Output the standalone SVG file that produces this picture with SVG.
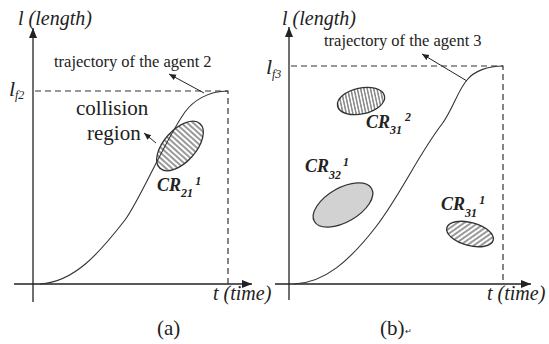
<svg xmlns="http://www.w3.org/2000/svg" width="549" height="344" viewBox="0 0 549 344">
<style>
.ax{stroke:#222;stroke-width:1.3;fill:none}
.dash{stroke:#333;stroke-width:1.2;fill:none;stroke-dasharray:6,4}
.cur{stroke:#333;stroke-width:1.1;fill:none}
.ptr{stroke:#222;stroke-width:1;fill:none}
.lab{font-family:"Liberation Serif",serif;font-style:italic;fill:#222}
.txt{font-family:"Liberation Serif",serif;fill:#222}
.cr{font-family:"Liberation Serif",serif;font-style:italic;font-weight:bold;fill:#222;font-size:18px}
.sb{font-size:12px}
.ell{stroke:#333;stroke-width:1.3}
</style>
<defs>
<marker id="axh" markerUnits="userSpaceOnUse" markerWidth="12" markerHeight="10" refX="10" refY="4" orient="auto">
<path d="M0,0 L10,4 L0,8 Z" fill="#222"/>
</marker>
<marker id="ph" markerUnits="userSpaceOnUse" markerWidth="9" markerHeight="7" refX="7" refY="3" orient="auto">
<path d="M0,0 L7,3 L0,6 Z" fill="#222"/>
</marker>
<pattern id="hv" patternUnits="userSpaceOnUse" width="4" height="4">
<line x1="2" y1="0" x2="2" y2="4" stroke="#333" stroke-width="1"/>
</pattern>
<pattern id="hv3" patternUnits="userSpaceOnUse" width="3.2" height="4">
<line x1="1.6" y1="0" x2="1.6" y2="4" stroke="#333" stroke-width="0.9"/>
</pattern>
<pattern id="hd" patternUnits="userSpaceOnUse" width="4" height="4" patternTransform="rotate(40)">
<line x1="2" y1="0" x2="2" y2="4" stroke="#333" stroke-width="1"/>
</pattern>
</defs>
<rect width="549" height="344" fill="#fff"/>

<g id="panel-a-axes">
<line class="ax" x1="33" y1="302" x2="33" y2="28" marker-end="url(#axh)"/>
<line class="ax" x1="14" y1="284" x2="252" y2="284" marker-end="url(#axh)"/>
<text class="lab" x="18" y="25" font-size="20">l (length)</text>
<text class="lab" x="213" y="300" font-size="20">t (time)</text>
<text class="lab" x="9" y="96" font-size="22">l<tspan x="15" y="99" font-size="12">f2</tspan></text>
<text class="txt" x="157" y="335" font-size="21">(a)</text>
</g>
<g id="panel-b-axes">
<line class="ax" x1="289" y1="300" x2="289" y2="27" marker-end="url(#axh)"/>
<line class="ax" x1="275" y1="284" x2="531" y2="284" marker-end="url(#axh)"/>
<text class="lab" x="282" y="25" font-size="20">l (length)</text>
<text class="lab" x="487" y="300" font-size="20">t (time)</text>
<text class="lab" x="266" y="74" font-size="22">l<tspan x="272" y="78" font-size="12">f3</tspan></text>
<text class="txt" x="380" y="335" font-size="21">(b)</text>
<text class="txt" x="405" y="334" font-size="8" fill="#999">↵</text>
</g>

<g id="connectors">
<path class="dash" d="M35,91 H228 V284"/>
<path class="dash" d="M291,66 H503 V284"/>
<path class="cur" d="M40,284 C75,282 100,252 125,220 C140,200 165,140 185,112 C193,101 208,91 228,91"/>
<path class="cur" d="M294,284 C325,283 350,260 375,228 C400,196 418,155 442,124 C452,111 458,90 467,80 C474,71 488,66 503,66"/>
<line class="ptr" x1="204" y1="93" x2="169" y2="74" marker-end="url(#ph)"/>
<line class="ptr" x1="467" y1="81" x2="422" y2="54" marker-end="url(#ph)"/>
<line class="ptr" x1="156" y1="143" x2="144" y2="133" marker-end="url(#ph)"/>
</g>

<g id="label-traj2">
<text class="txt" x="54" y="67" font-size="16.5">trajectory of the agent 2</text>
</g>
<g id="label-traj3">
<text class="txt" x="324" y="46" font-size="16.5">trajectory of the agent 3</text>
</g>

<g id="collision-region-a">
<ellipse class="ell" cx="180" cy="146" rx="30" ry="16" transform="rotate(-48 180 146)" fill="url(#hv)"/>
<text class="txt" x="76" y="115" font-size="21">collision</text>
<text class="txt" x="87" y="140" font-size="21">region</text>
<text class="cr" x="157" y="191">CR<tspan class="sb" dx="0" dy="6">21</tspan><tspan class="sb" dx="3" dy="-12">1</tspan></text>
</g>

<g id="cr31-2">
<ellipse class="ell" cx="361" cy="101" rx="24" ry="13" transform="rotate(-12 361 101)" fill="url(#hv3)"/>
<text class="cr" x="366" y="128">CR<tspan class="sb" dx="0" dy="6">31</tspan><tspan class="sb" dx="3" dy="-13">2</tspan></text>
</g>

<g id="cr32-1">
<ellipse class="ell" cx="343" cy="205" rx="33" ry="17" transform="rotate(-30 343 205)" fill="#d2d2d2"/>
<text class="cr" x="305" y="172">CR<tspan class="sb" dx="0" dy="7">32</tspan><tspan class="sb" dx="2" dy="-13">1</tspan></text>
</g>

<g id="cr31-1">
<ellipse class="ell" cx="470" cy="234" rx="24" ry="11.5" transform="rotate(15 470 234)" fill="url(#hd)"/>
<text class="cr" x="441" y="210">CR<tspan class="sb" dx="0" dy="7">31</tspan><tspan class="sb" dx="3" dy="-13">1</tspan></text>
</g>
</svg>
